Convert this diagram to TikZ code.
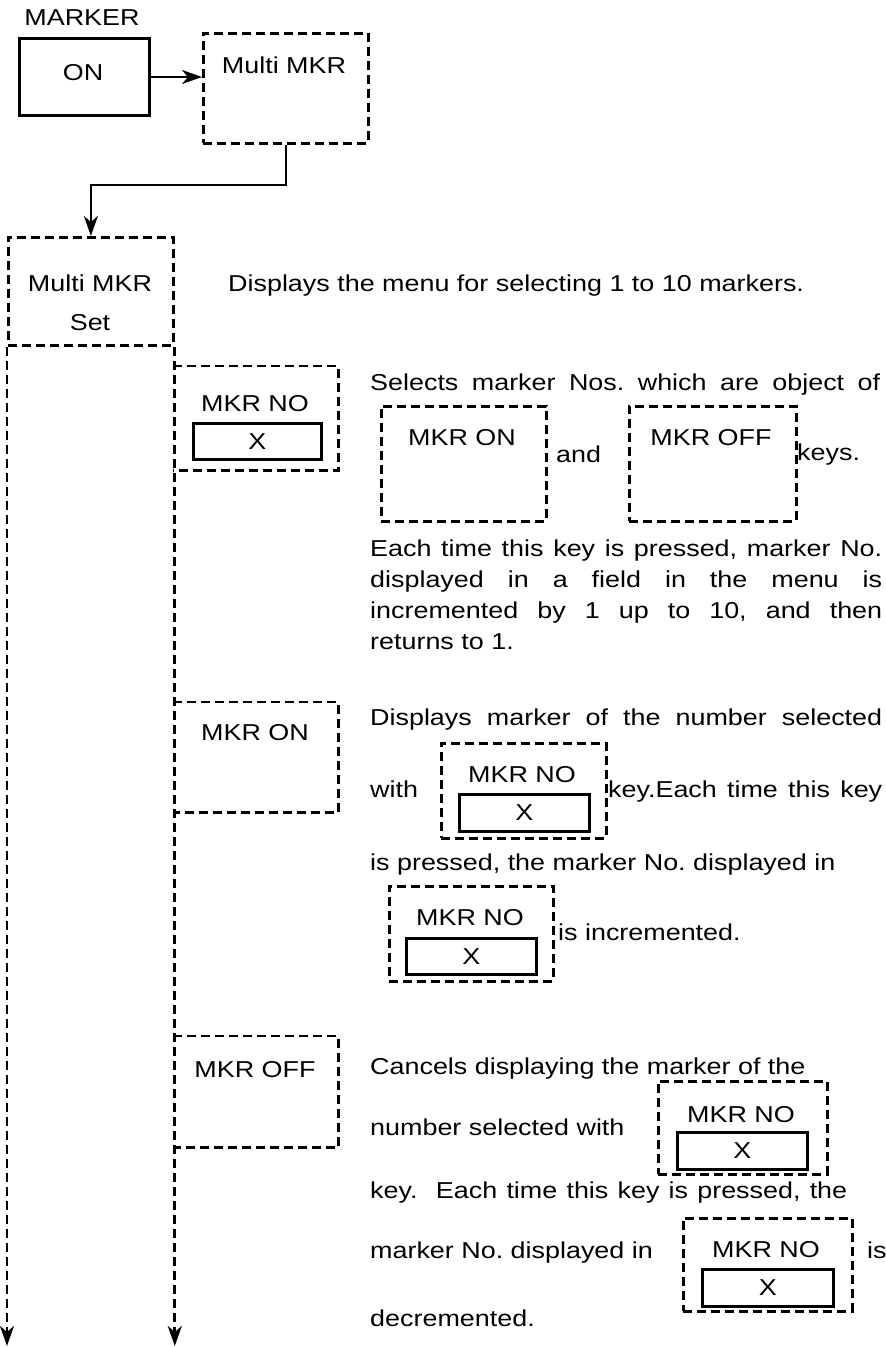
\documentclass[tikz,border=0pt]{standalone}
\usepackage{fontspec}
\setmainfont{Liberation Sans}[FakeStretch=1.17]
\usetikzlibrary{arrows.meta,calc}
\newcommand{\jline}[2]{\makebox[#1][s]{#2}}
\begin{document}
\frenchspacing
\begin{tikzpicture}[x=1pt,y=-1pt,
  every node/.style={font=\fontsize{23}{31}\selectfont, inner sep=0pt},
  dbox/.style={draw, line width=2.8pt, dash pattern=on 9pt off 5pt, minimum width=165pt, anchor=north west},
  obox/.style={minimum width=165pt, anchor=north west},
  ibox/.style={draw, line width=2.6pt, anchor=north west},
  txt/.style={anchor=base west},
  conn/.style={line width=2.6pt},
  dline/.style={line width=2.8pt, dash pattern=on 9pt off 5pt},
  tip/.style={-{Stealth[length=20pt,width=14pt,inset=6pt]}},
]
\fill[white] (0,0) rectangle (886,1347);
\useasboundingbox (0,0) rectangle (886,1347);

% top
\node (marker) at (82,18) {MARKER};
\node[ibox, line width=3pt, minimum width=130pt, minimum height=77pt] (on) at (18,37) {};
\node (ontxt) at (83,73) {ON};
\node[dbox, minimum height=110pt] (multi) at (202,32) {};
\node (multitxt) at (284,65) {Multi MKR};
\node[dbox, minimum height=108pt] (set) at (7,236) {};
\node (settxt1) at (90,283) {Multi MKR};
\node (settxt2) at (90,323) {Set};
\draw[conn,tip] (on.east) -- (on.east -| multi.west);
\draw[conn,tip] (multi.south) -- ++(0,40) -| (set.north);

% long vertical lines
\coordinate (endL) at (7,1346);
\coordinate (endR) at (173,1346);
\draw[dline,tip] (set.south west) -- (set.south west |- endL);
\draw[dline,tip] (set.south east) -- (set.south east |- endR);

\node[txt] (t1) at (228,291) {Displays the menu for selecting 1 to 10 markers.};

% MKR NO section
\node[obox, minimum height=104pt] (nobox) at (173,366) {};
\draw[dline] (nobox.north west) -- (nobox.north east) -- (nobox.south east) -- (nobox.south west);
\node (notxt) at (255,404) {MKR NO};
\node[ibox, minimum width=128pt, minimum height=36pt] (noX) at (192,422) {X};

\node[txt] (s1) at (370,390) {\jline{510pt}{Selects marker Nos. which are object of}};
\node[dbox, minimum height=115pt] (ion) at (380,405) {};
\node (iontxt) at (462,438) {MKR ON};
\node[txt] (and) at (556,462) {and};
\node[dbox, minimum width=167pt, minimum height=115pt] (ioff) at (628,405) {};
\node (iofftxt) at (711,438) {MKR OFF};
\node[txt] (keys) at (797,460) {keys.};
\node[txt] (p1) at (370,556) {\jline{512pt}{Each time this key is pressed, marker No.}};
\node[txt] (p2) at (370,587) {\jline{512pt}{displayed in a field in the menu is}};
\node[txt] (p3) at (370,618) {\jline{512pt}{incremented by 1 up to 10, and then}};
\node[txt] (p4) at (370,649) {returns to 1.};

% MKR ON section
\node[obox, minimum height=110pt] (onbox) at (173,702) {};
\draw[dline] (onbox.north west) -- (onbox.north east) -- (onbox.south east) -- (onbox.south west);
\node (ontxt2) at (255,733) {MKR ON};
\node[txt] (d1) at (370,725) {\jline{512pt}{Displays marker of the number selected}};
\node[txt] (with) at (370,797) {with};
\node[dbox, minimum height=95pt] (ib2) at (440,742) {};
\node (ib2t) at (522,775) {MKR NO};
\node[ibox, minimum width=130pt, minimum height=37pt] (ib2x) at (458,793) {X};
\node[txt] (d2) at (608,797) {\jline{274pt}{key.Each time this key}};
\node[txt] (d3) at (370,870) {is pressed, the marker No. displayed in};
\node[dbox, minimum width=164pt, minimum height=95pt] (ib3) at (388,885) {};
\node (ib3t) at (470,918) {MKR NO};
\node[ibox, minimum width=130pt, minimum height=36pt] (ib3x) at (405,937) {X};
\node[txt] (d4) at (558,940) {is incremented.};

% MKR OFF section
\node[obox, minimum height=111pt] (offbox) at (173,1036) {};
\draw[dline] (offbox.north west) -- (offbox.north east) -- (offbox.south east) -- (offbox.south west);
\node (offtxt) at (255,1070) {MKR OFF};
\node[txt] (c1) at (370,1074) {Cancels displaying the marker of the};
\node[txt] (c2) at (370,1135) {number selected with};
\node[dbox, minimum width=169pt, minimum height=93pt] (ib4) at (657,1080) {};
\node (ib4t) at (741,1115) {MKR NO};
\node[ibox, minimum width=130pt, minimum height=37pt] (ib4x) at (676,1131) {X};
\node[txt] (c3) at (370,1198) {\jline{477pt}{key.\ \ Each time this key is pressed, the}};
\node[txt] (c4) at (370,1258) {marker No. displayed in};
\node[dbox, minimum width=169pt, minimum height=93pt] (ib5) at (682,1217) {};
\node (ib5t) at (766,1250) {MKR NO};
\node[ibox, minimum width=131pt, minimum height=37pt] (ib5x) at (701,1268) {X};
\node[txt] (c5) at (867,1258) {is};
\node[txt] (c6) at (370,1326) {decremented.};
\end{tikzpicture}
\end{document}
